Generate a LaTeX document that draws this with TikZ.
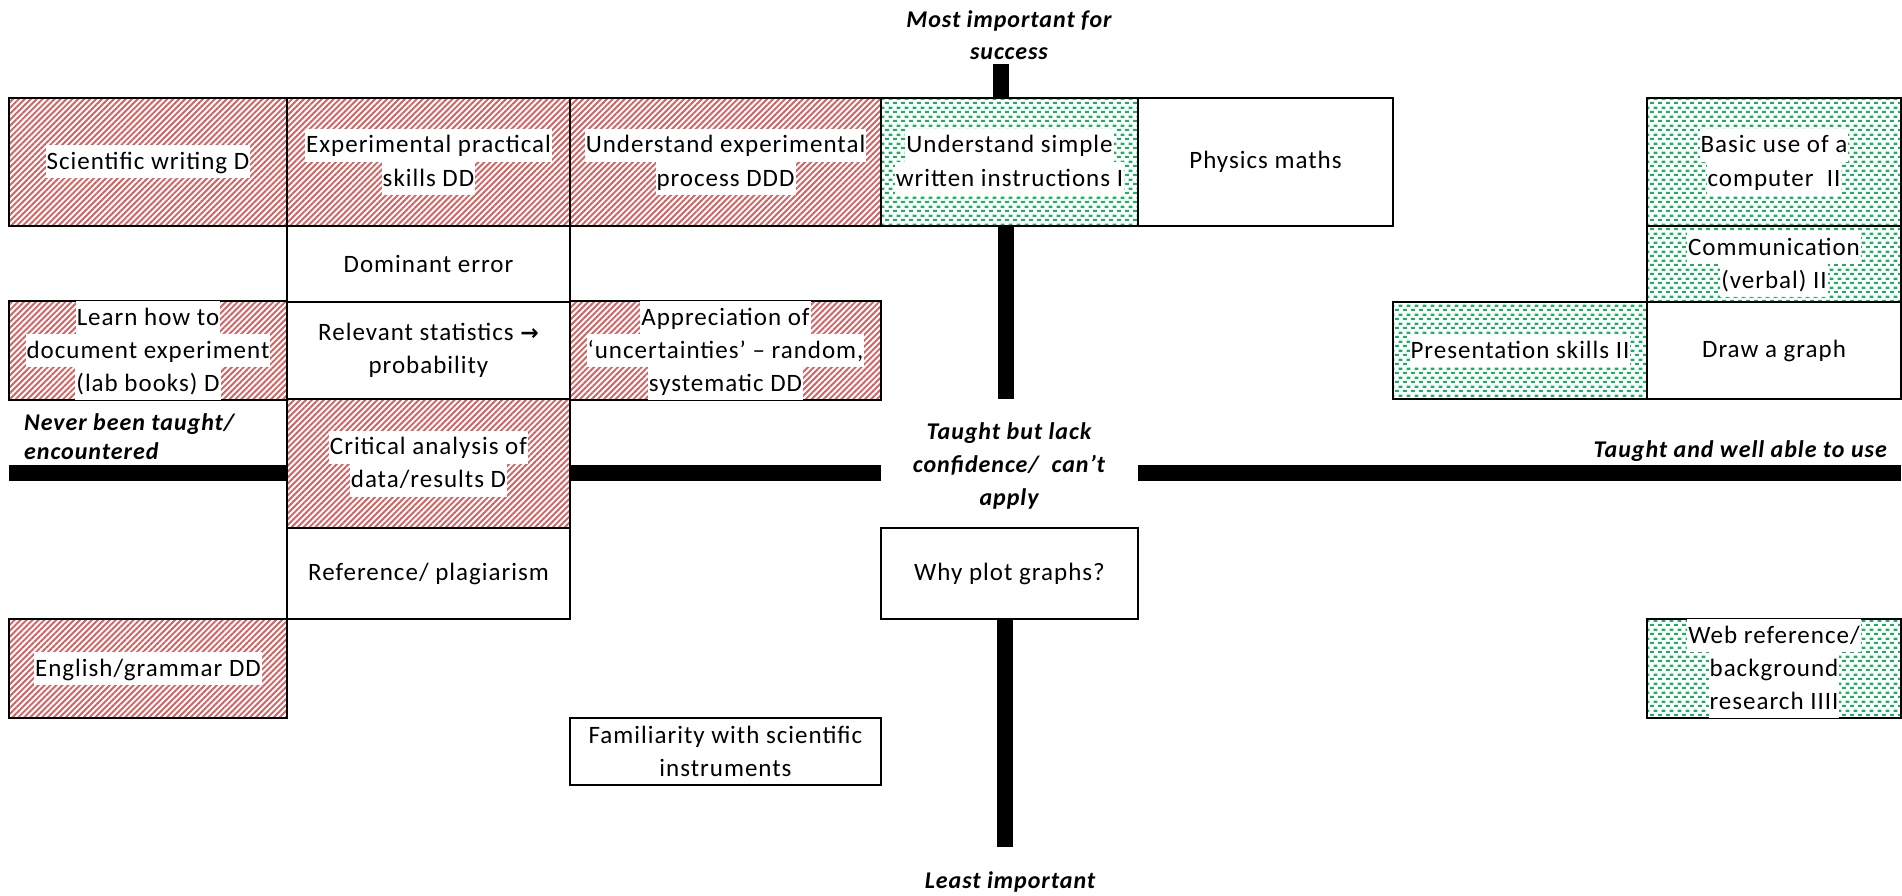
\documentclass[tikz,border=0pt]{standalone}
\usepackage{fontspec}
\setmainfont{Carlito}[LetterSpace=4]
\newfontfamily\arrowfont{DejaVu Sans}
\usetikzlibrary{patterns,patterns.meta}
\definecolor{hatchred}{RGB}{212,96,96}
\definecolor{dotgreen}{RGB}{20,180,95}
\pgfdeclarepatternformonly{greendots}{\pgfpoint{0pt}{0pt}}{\pgfpoint{7.5pt}{9pt}}{\pgfpoint{7.5pt}{9pt}}{%
  \pgfpathrectangle{\pgfpoint{0pt}{0pt}}{\pgfpoint{4pt}{2.4pt}}%
  \pgfpathrectangle{\pgfpoint{3.75pt}{4.5pt}}{\pgfpoint{4pt}{2.4pt}}%
  \pgfusepath{fill}}
\newcommand{\hlw}[1]{{\setlength{\fboxsep}{1pt}\colorbox{white}{\rule[-8pt]{0pt}{31pt}#1}}}
\tikzset{
  cell/.style={draw=black, line width=2.6pt, inner sep=0pt, outer sep=0pt, align=center,
    font=\fontsize{25}{33}\selectfont},
  whitecell/.style={cell, fill=white},
  redcell/.style={cell, preaction={fill=white},
    pattern={Lines[angle=45,distance=4.2pt,line width=1.9pt]}, pattern color=hatchred},
  greencell/.style={cell, preaction={fill=white}, pattern=greendots, pattern color=dotgreen},
  axislabel/.style={font=\fontsize{24}{32}\selectfont\bfseries\itshape, inner sep=0pt, align=center},
  axisline/.style={line width=16pt, draw=black}
}
\begin{document}
\begin{tikzpicture}[x=1pt,y=-1pt]
\useasboundingbox (0,0) rectangle (1902,896);

% axis coordinates
\coordinate (axL) at (9,473);
\coordinate (axR) at (1901,473);
\coordinate (vt) at (1001,64);
\coordinate (vm) at (1006,399);
\coordinate (vb) at (1005,847);

% boxes (positions)
\path (148,162) coordinate (p-sw) (428.5,162) coordinate (p-eps) (725.5,162) coordinate (p-uep)
      (1009.5,162) coordinate (p-usi) (1265.5,162) coordinate (p-pm) (1774,162) coordinate (p-buc)
      (428.5,264) coordinate (p-de) (1774,264) coordinate (p-com)
      (148,350.5) coordinate (p-lhd) (428.5,350.5) coordinate (p-rs) (725.5,350.5) coordinate (p-au)
      (1520,350.5) coordinate (p-ps) (1774,350.5) coordinate (p-dg)
      (428.5,463.5) coordinate (p-crit)
      (428.5,573.5) coordinate (p-ref) (1009.5,573.5) coordinate (p-why)
      (148,668.5) coordinate (p-eng) (1774,668.5) coordinate (p-web)
      (725.5,751.5) coordinate (p-fam);

\node[redcell, minimum width=278pt, minimum height=128pt] (sw) at (p-sw) {\hlw{Scientific writing D}};
\node[redcell, minimum width=283pt, minimum height=128pt] (eps) at (p-eps) {\hlw{Experimental practical}\\\hlw{skills DD}};
\node[redcell, minimum width=311pt, minimum height=128pt] (uep) at (p-uep) {\hlw{Understand experimental}\\\hlw{process DDD}};
\node[greencell, minimum width=257pt, minimum height=128pt] (usi) at (p-usi) {\hlw{Understand simple}\\\hlw{written instructions I}};
\node[whitecell, minimum width=255pt, minimum height=128pt] (pm) at (p-pm) {Physics maths};
\node[greencell, minimum width=254pt, minimum height=128pt] (buc) at (p-buc) {\hlw{Basic use of a}\\\hlw{computer~ II}};
\node[whitecell, minimum width=283pt, minimum height=76pt] (de) at (p-de) {Dominant error};
\node[greencell, minimum width=254pt, minimum height=76pt] (com) at (p-com) {\hlw{Communication}\\\hlw{(verbal) II}};
\node[redcell, minimum width=278pt, minimum height=97pt] (lhd) at (p-lhd) {\hlw{Learn how to}\\\hlw{document experiment}\\\hlw{(lab books) D}};
\node[whitecell, minimum width=283pt, minimum height=97pt] (rs) at (p-rs) {Relevant statistics {\arrowfont\bfseries\fontsize{22}{33}\selectfont →}\\probability};
\node[redcell, minimum width=311pt, minimum height=97pt] (au) at (p-au) {\hlw{Appreciation of}\\\hlw{‘uncertainties’ – random,}\\\hlw{systematic DD}};
\node[greencell, minimum width=254pt, minimum height=97pt] (ps) at (p-ps) {\hlw{Presentation skills II}};
\node[whitecell, minimum width=254pt, minimum height=97pt] (dg) at (p-dg) {Draw a graph};

% axes (drawn before the lower boxes)
\draw[axisline] (axL) -- (axL -| sw.east);
\draw[axisline] (axL -| rs.east) -- (axL -| uep.east);
\draw[axisline] (axL -| usi.east) -- (axR);
\draw[axisline] (vt) -- (vt |- usi.north);
\draw[axisline] (vm |- usi.south) -- (vm);

\node[redcell, minimum width=283pt, minimum height=129pt] (crit) at (p-crit) {\hlw{Critical analysis of}\\\hlw{data/results D}};
\node[whitecell, minimum width=283pt, minimum height=91pt] (ref) at (p-ref) {Reference/ plagiarism};
\node[whitecell, minimum width=257pt, minimum height=91pt] (why) at (p-why) {Why plot graphs?};
\node[redcell, minimum width=278pt, minimum height=99pt] (eng) at (p-eng) {\hlw{English/grammar DD}};
\node[greencell, minimum width=254pt, minimum height=99pt] (web) at (p-web) {\hlw{Web reference/}\\\hlw{background}\\\hlw{research IIII}};
\node[whitecell, minimum width=311pt, minimum height=67pt] (fam) at (p-fam) {Familiarity with scientific\\instruments};

\draw[axisline] (vb |- why.south) -- (vb);

% axis labels
\node[axislabel] (most) at (1009,35) {Most important for\\success};
\node[axislabel, align=left, anchor=west, font=\fontsize{24}{29}\selectfont\bfseries\itshape] (never) at (24,437) {Never been taught/\\encountered};
\node[axislabel, anchor=east] (well) at (1887,451) {Taught and well able to use};
\node[axislabel, font=\fontsize{24}{33}\selectfont\bfseries\itshape] (lack) at (1009,466) {Taught but lack\\confidence/~ can’t\\apply};
\node[axislabel] (least) at (1010,882) {Least important};
\end{tikzpicture}
\end{document}
